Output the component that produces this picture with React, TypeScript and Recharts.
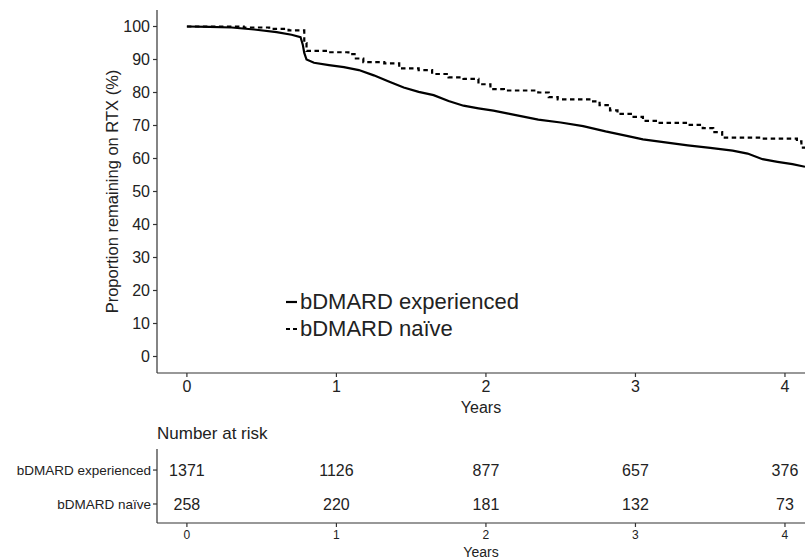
import { LineChart, Line, XAxis, YAxis, LabelList } from "recharts";

// survival curves (years, % remaining on RTX)
const expYears = [0, 0.15, 0.3, 0.45, 0.6, 0.7, 0.76, 0.775, 0.785, 0.8, 0.85, 0.95, 1.05, 1.15, 1.25, 1.35, 1.45, 1.55, 1.65, 1.75, 1.85, 1.95, 2.05, 2.15, 2.25, 2.35, 2.5, 2.65, 2.8, 2.95, 3.05, 3.2, 3.35, 3.5, 3.65, 3.75, 3.85, 3.95, 4.05, 4.134];
const expSurv = [100, 99.9, 99.7, 99.1, 98.3, 97.5, 96.8, 94.5, 92, 90, 89, 88.3, 87.7, 86.8, 85.2, 83.3, 81.5, 80.2, 79.2, 77.4, 76, 75.2, 74.5, 73.6, 72.7, 71.8, 70.9, 69.8, 68.2, 66.8, 65.8, 64.9, 64.0, 63.2, 62.4, 61.5, 59.8, 59.0, 58.3, 57.5];

const naiveYears = [0, 0.38, 0.55, 0.68, 0.785, 0.8, 0.95, 1.08, 1.13, 1.18, 1.32, 1.42, 1.55, 1.64, 1.75, 1.85, 1.95, 2.03, 2.12, 2.35, 2.42, 2.48, 2.7, 2.76, 2.83, 2.88, 2.98, 3.05, 3.15, 3.35, 3.45, 3.52, 3.58, 3.85, 4.08, 4.11, 4.134];
const naiveSurv = [100, 99.7, 99.3, 98.8, 95, 92.6, 92.2, 91.6, 90.3, 89.2, 88.8, 87.3, 86.8, 85.6, 84.6, 84.1, 82.5, 81, 80.6, 80, 78.6, 77.9, 77.3, 76.2, 74.6, 73.5, 72.6, 71.4, 70.8, 70.2, 69.2, 68, 66.3, 66, 65.2, 63.3, 63.3];

// number at risk table
const riskYears = [0, 1, 2, 3, 4];
const riskExperienced = [1371, 1126, 877, 657, 376];
const riskNaive = [258, 220, 181, 132, 73];
const groups = ["bDMARD experienced", "bDMARD naïve"];

const yTicks = [0, 10, 20, 30, 40, 50, 60, 70, 80, 90, 100];
const xTicks = [0, 1, 2, 3, 4];

const FONT = '"Liberation Sans", Arial, sans-serif';
const INK = "#222";
const X_DOMAIN: [number, number] = [-0.2, 4.134];
const DASH = "4.5 3.5";

const expData = expYears.map((t, i) => ({ t, v: expSurv[i] }));
const naiveData = naiveYears.map((t, i) => ({ t, v: naiveSurv[i] }));
const riskData = riskYears.map((t, i) => ({
  t,
  rowExp: 2,
  rowNaive: 1,
  nExp: riskExperienced[i],
  nNaive: riskNaive[i],
}));

const legendItems = [
  { name: groups[0], dash: undefined as string | undefined },
  { name: groups[1], dash: "4 3" },
];

function KmLegend() {
  return (
    <div style={{ position: "absolute", left: 286, top: 288, fontSize: 22, color: INK, lineHeight: "27px" }}>
      {legendItems.map((it) => (
        <div key={it.name} style={{ display: "flex", alignItems: "center" }}>
          <svg width={13} height={12} style={{ marginRight: 1 }}>
            <line x1={0} y1={6} x2={11} y2={6} stroke="#000" strokeWidth={2.2} strokeDasharray={it.dash} />
          </svg>
          <span>{it.name}</span>
        </div>
      ))}
    </div>
  );
}

export default function App() {
  const axisLine = { stroke: "#333", strokeWidth: 1.2 };
  return (
    <div style={{ position: "absolute", left: 0, top: 0, width: 805, height: 560, background: "#fff", fontFamily: FONT, overflow: "hidden" }}>
      <LineChart width={805} height={420} margin={{ top: 10, right: 0, bottom: 0, left: 0 }}>
        <XAxis
          dataKey="t"
          type="number"
          domain={X_DOMAIN}
          allowDataOverflow
          ticks={xTicks}
          height={47}
          tickSize={4}
          tickMargin={4}
          axisLine={axisLine}
          tickLine={axisLine}
          tick={{ fill: INK, fontSize: 16 }}
          label={{ value: "Years", position: "insideBottom", offset: 7, fill: INK, fontSize: 16 }}
        />
        <YAxis
          type="number"
          domain={[-5, 105]}
          ticks={yTicks}
          width={157}
          tickSize={4}
          tickMargin={3}
          axisLine={axisLine}
          tickLine={axisLine}
          tick={{ fill: INK, fontSize: 16 }}
          label={{
            value: "Proportion remaining on RTX (%)",
            angle: -90,
            position: "insideLeft",
            offset: 112,
            fill: INK,
            fontSize: 16.5,
            style: { textAnchor: "middle" },
          }}
        />
        <Line data={expData} dataKey="v" type="linear" stroke="#000" strokeWidth={2.2} dot={false} isAnimationActive={false} />
        <Line data={naiveData} dataKey="v" type="stepAfter" stroke="#000" strokeWidth={2.2} strokeDasharray={DASH} dot={false} isAnimationActive={false} />
      </LineChart>
      <KmLegend />

      <div style={{ position: "absolute", left: 157, top: 424, fontSize: 17, color: INK }}>Number at risk</div>
      <div style={{ position: "absolute", left: 0, top: 420 }}>
        <LineChart width={805} height={140} data={riskData} margin={{ top: 29, right: 0, bottom: 0, left: 0 }}>
          <XAxis
            dataKey="t"
            type="number"
            domain={X_DOMAIN}
            allowDataOverflow
            ticks={xTicks}
            height={37}
            tickSize={4}
            tickMargin={3}
            axisLine={axisLine}
            tickLine={axisLine}
            tick={{ fill: INK, fontSize: 12 }}
            label={{ value: "Years", position: "insideBottom", offset: 3, fill: INK, fontSize: 14 }}
          />
          <YAxis
            type="number"
            domain={[0.44, 2.62]}
            ticks={[1, 2]}
            width={157}
            tickSize={4}
            tickMargin={2}
            axisLine={axisLine}
            tickLine={axisLine}
            tick={{ fill: INK, fontSize: 13.5 }}
            tickFormatter={(v: number) => (v === 2 ? groups[0] : groups[1])}
          />
          <Line dataKey="rowExp" stroke="none" dot={false} isAnimationActive={false}>
            <LabelList dataKey="nExp" position="center" fill={INK} fontSize={16} />
          </Line>
          <Line dataKey="rowNaive" stroke="none" dot={false} isAnimationActive={false}>
            <LabelList dataKey="nNaive" position="center" fill={INK} fontSize={16} />
          </Line>
        </LineChart>
      </div>
    </div>
  );
}
